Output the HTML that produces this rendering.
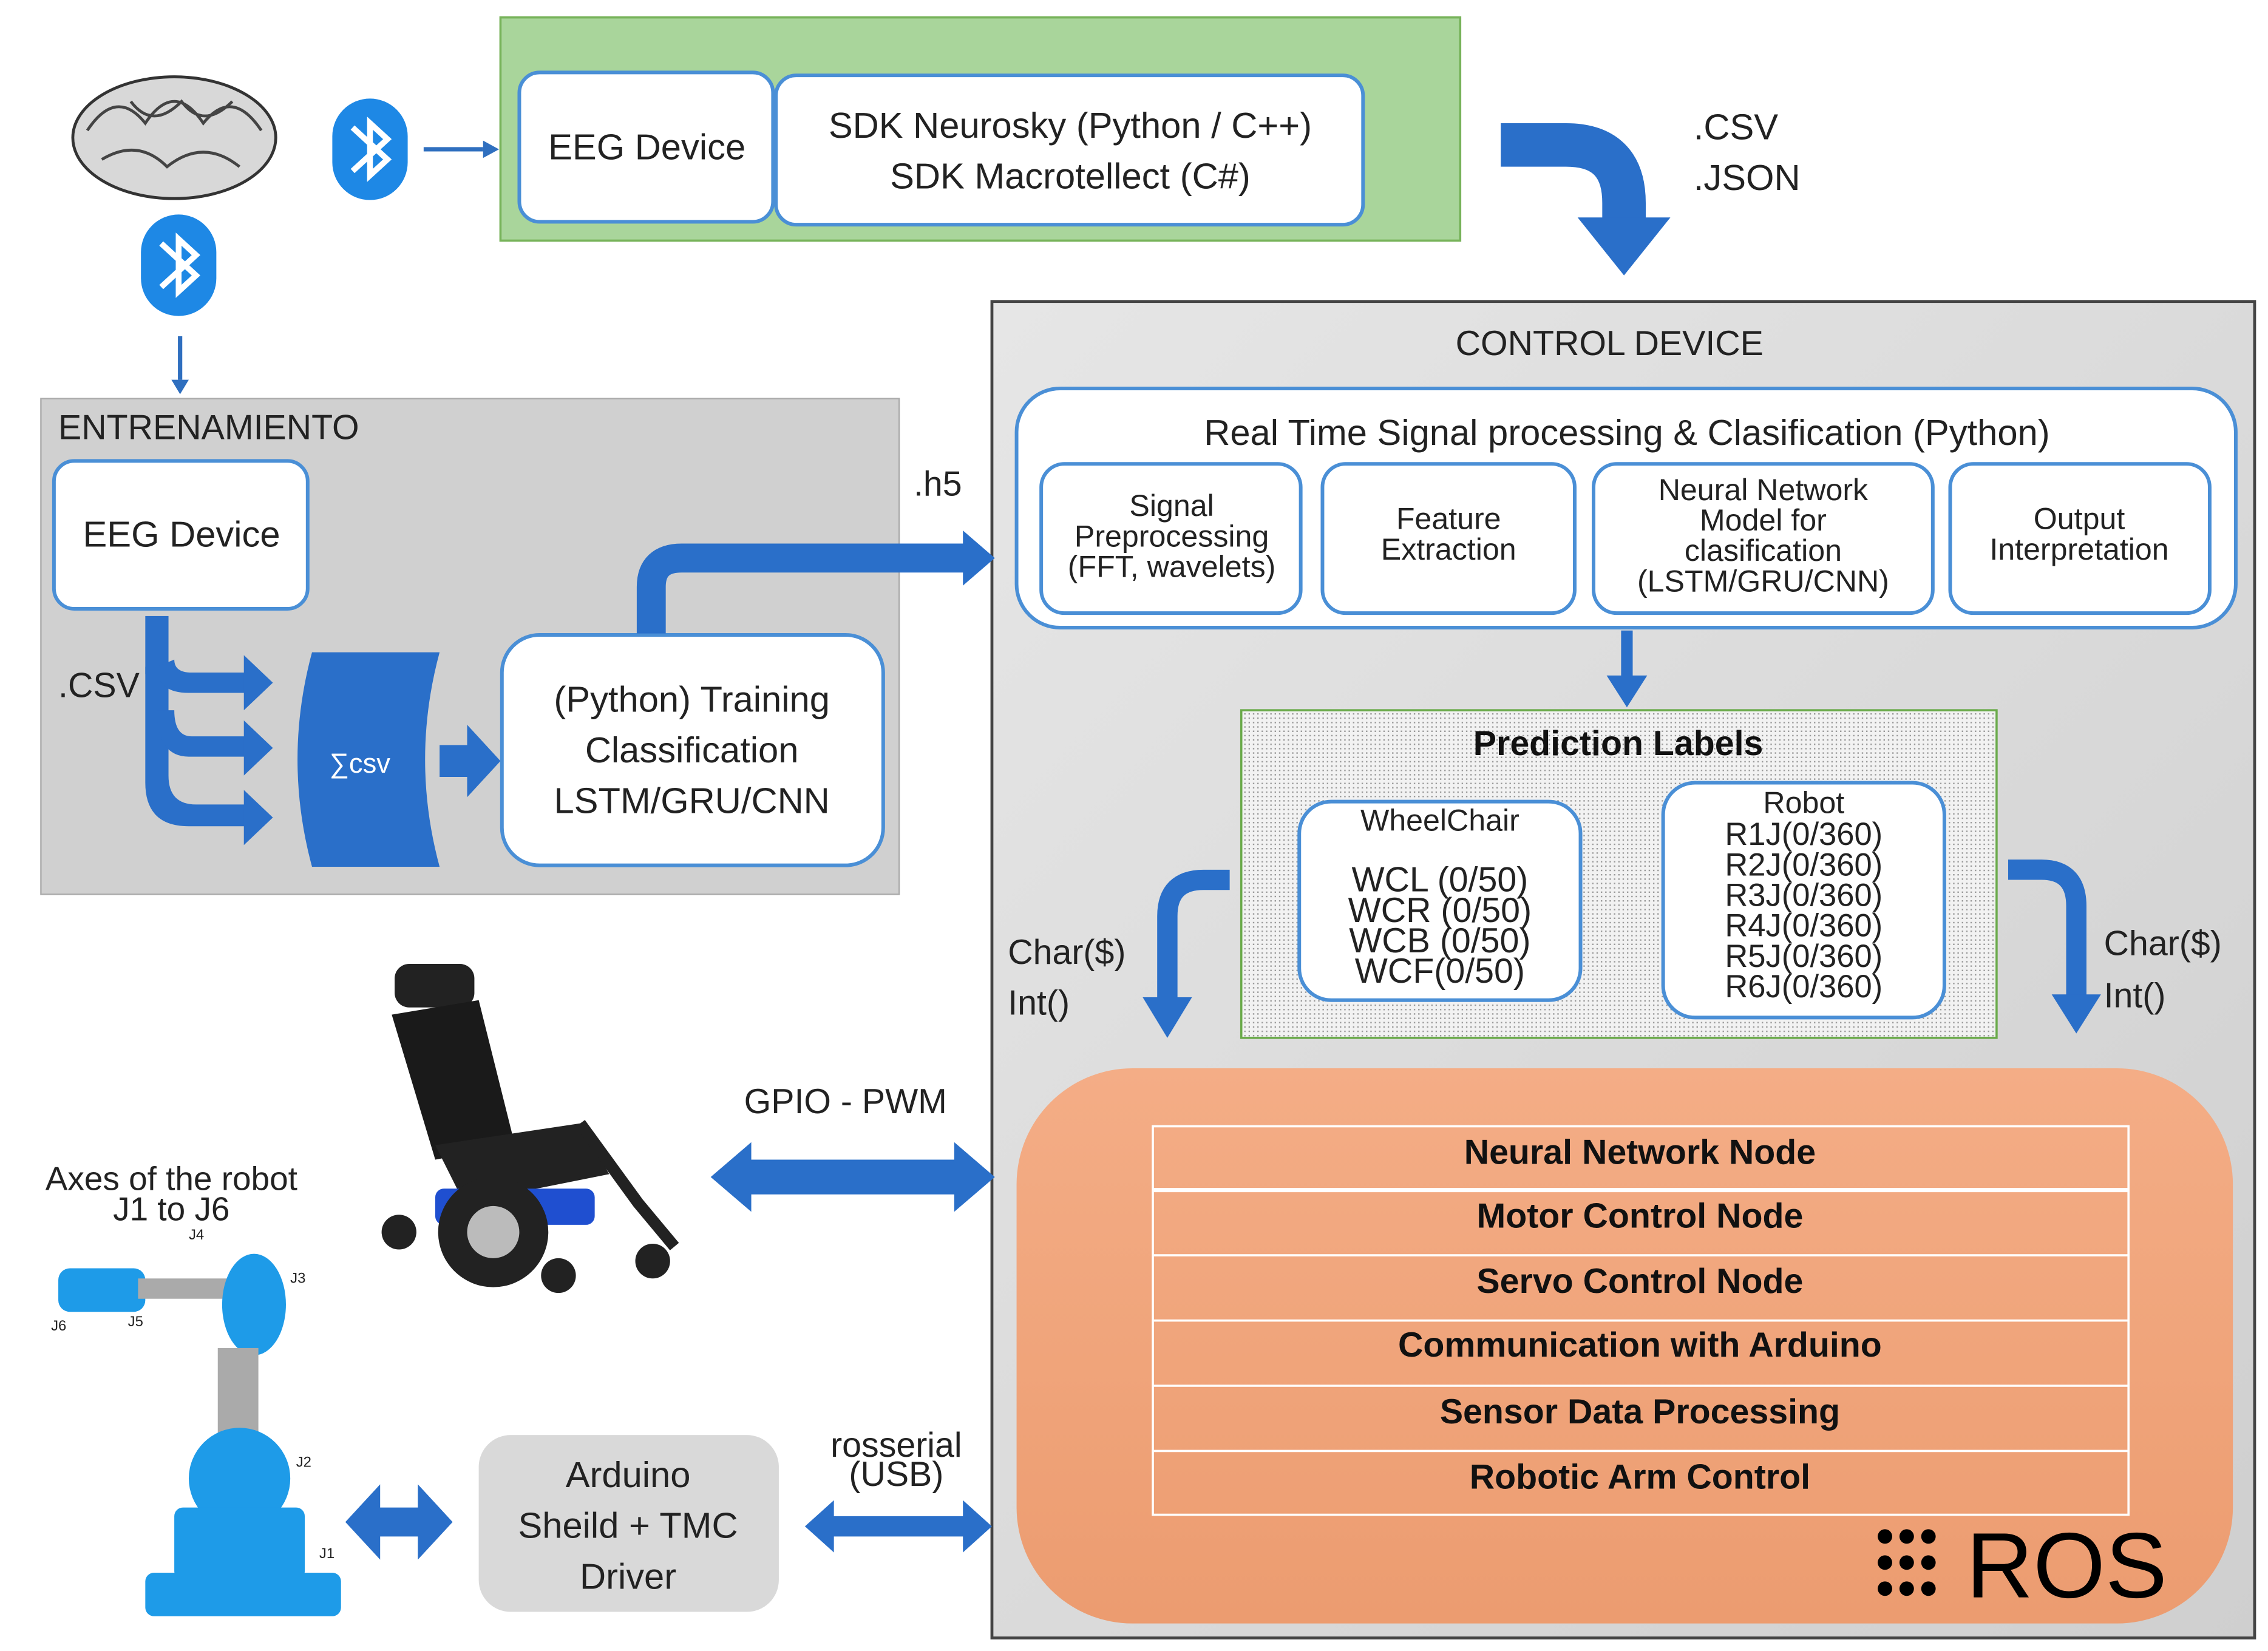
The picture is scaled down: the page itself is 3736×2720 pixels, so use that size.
<!DOCTYPE html>
<html><head><meta charset="utf-8"><style>
html,body{margin:0;padding:0;background:#fff;}
svg{display:block;}
text{font-family:"Liberation Sans","DejaVu Sans",sans-serif;}
</style></head><body>
<svg width="3736" height="2720" viewBox="0 0 1564 1139" xmlns="http://www.w3.org/2000/svg">
<defs>
<pattern id="dots" width="3" height="3" patternUnits="userSpaceOnUse">
<rect width="3" height="3" fill="#f2f2f2"/><rect width="1" height="1" fill="#9a9a9a"/>
</pattern>
<linearGradient id="og" x1="0" y1="0" x2="0" y2="1"><stop offset="0" stop-color="#f4ad86"/><stop offset="1" stop-color="#ec9c70"/></linearGradient>
<linearGradient id="gg" x1="0" y1="0" x2="1" y2="1"><stop offset="0" stop-color="#e6e6e6"/><stop offset="1" stop-color="#cfcfcf"/></linearGradient>
</defs>
<g fill="none" stroke="none">
<!-- top green -->
<rect x="345" y="12" width="662" height="154" fill="#a9d59b" stroke="#77b35a" stroke-width="1.5"/>
<rect x="358" y="50" width="175" height="103" rx="14" fill="#fff" stroke="#4a8fd6" stroke-width="2.5"/>
<rect x="535" y="52" width="405" height="103" rx="14" fill="#fff" stroke="#4a8fd6" stroke-width="2.5"/>
</g>
<text x="446" y="110" font-size="25" text-anchor="middle" fill="#222">EEG Device</text>
<text x="738" y="95" font-size="25" text-anchor="middle" fill="#222">SDK Neurosky (Python / C++)</text>
<text x="738" y="130" font-size="25" text-anchor="middle" fill="#222">SDK Macrotellect (C#)</text>

<!-- brain -->
<ellipse cx="120" cy="95" rx="70" ry="42" fill="#d8d8d8" stroke="#333" stroke-width="2"/>
<path d="M60,90 q20,-30 40,-5 q20,-30 40,0 q20,-25 40,5 M70,110 q25,-15 45,5 q25,-20 50,0 M90,70 q15,20 35,0 q15,20 35,0" stroke="#444" stroke-width="2" fill="none"/>
<!-- bluetooth icons -->
<g>
<rect x="229" y="68" width="52" height="70" rx="26" fill="#1e88e5"/>
<path d="M243,88 L267,110 L255,121 L255,85 L267,96 L243,118" stroke="#fff" stroke-width="4" fill="none"/>
<rect x="97" y="148" width="52" height="70" rx="26" fill="#1e88e5"/>
<path d="M111,168 L135,190 L123,201 L123,165 L135,176 L111,198" stroke="#fff" stroke-width="4" fill="none"/>
</g>
<line x1="292" y1="103" x2="333" y2="103" stroke="#2f6fbf" stroke-width="3"/>
<polygon points="333,97 344,103 333,109" fill="#2f6fbf"/>
<line x1="124" y1="232" x2="124" y2="262" stroke="#2f6fbf" stroke-width="3"/>
<polygon points="118,262 124,272 130,262" fill="#2f6fbf"/>

<!-- big top curved arrow -->
<path d="M1035,100 H1080 Q1120,100 1120,140 V152" stroke="#2a6fc9" stroke-width="30" fill="none"/>
<polygon points="1088,150 1152,150 1120,190" fill="#2a6fc9"/>
<text x="1168" y="96" font-size="25" fill="#222">.CSV</text>
<text x="1168" y="131" font-size="25" fill="#222">.JSON</text>

<!-- control device -->
<rect x="684" y="208" width="871" height="922" fill="url(#gg)" stroke="#444" stroke-width="2"/>
<text x="1110" y="245" font-size="24" text-anchor="middle" fill="#222">CONTROL DEVICE</text>
<rect x="701" y="268" width="841" height="165" rx="30" fill="#fff" stroke="#4a8fd6" stroke-width="2.5"/>
<text x="1122" y="307" font-size="25" text-anchor="middle" fill="#222">Real Time Signal processing &amp; Clasification (Python)</text>
<g fill="#fff" stroke="#4a8fd6" stroke-width="2.5">
<rect x="718" y="320" width="179" height="103" rx="16"/>
<rect x="912" y="320" width="174" height="103" rx="16"/>
<rect x="1099" y="320" width="234" height="103" rx="16"/>
<rect x="1345" y="320" width="179" height="103" rx="16"/>
</g>
<g font-size="21" text-anchor="middle" fill="#222">
<text x="808" y="356">Signal</text><text x="808" y="377">Preprocessing</text><text x="808" y="398">(FFT, wavelets)</text>
<text x="999" y="365">Feature</text><text x="999" y="386">Extraction</text>
<text x="1216" y="345">Neural Network</text><text x="1216" y="366">Model for</text><text x="1216" y="387">clasification</text><text x="1216" y="408">(LSTM/GRU/CNN)</text>
<text x="1434" y="365">Output</text><text x="1434" y="386">Interpretation</text>
</g>
<line x1="1122" y1="435" x2="1122" y2="468" stroke="#2a6fc9" stroke-width="8"/>
<polygon points="1108,466 1136,466 1122,488" fill="#2a6fc9"/>

<!-- prediction labels -->
<rect x="856" y="490" width="521" height="226" fill="url(#dots)" stroke="#6aaa4a" stroke-width="1.5"/>
<text x="1116" y="521" font-size="24" font-weight="bold" text-anchor="middle" fill="#111">Prediction Labels</text>
<rect x="896" y="553" width="194" height="137" rx="22" fill="#fff" stroke="#4a8fd6" stroke-width="2.5"/>
<rect x="1147" y="540" width="194" height="162" rx="22" fill="#fff" stroke="#4a8fd6" stroke-width="2.5"/>
<text x="993" y="573" font-size="21" text-anchor="middle" fill="#222">WheelChair</text>
<g font-size="24" text-anchor="middle" fill="#222">
<text x="993" y="615">WCL (0/50)</text><text x="993" y="636">WCR (0/50)</text><text x="993" y="657">WCB (0/50)</text><text x="993" y="678">WCF(0/50)</text>
</g>
<text x="1244" y="561" font-size="21" text-anchor="middle" fill="#222">Robot</text>
<g font-size="22" text-anchor="middle" fill="#222">
<text x="1244" y="583">R1J(0/360)</text><text x="1244" y="604">R2J(0/360)</text><text x="1244" y="625">R3J(0/360)</text><text x="1244" y="646">R4J(0/360)</text><text x="1244" y="667">R5J(0/360)</text><text x="1244" y="688">R6J(0/360)</text>
</g>
<!-- side curved arrows -->
<path d="M848,607 H830 Q805,607 805,632 V690" stroke="#2a6fc9" stroke-width="14" fill="none"/>
<polygon points="788,688 822,688 805,716" fill="#2a6fc9"/>
<path d="M1385,600 H1408 Q1432,600 1432,625 V688" stroke="#2a6fc9" stroke-width="14" fill="none"/>
<polygon points="1415,686 1449,686 1432,713" fill="#2a6fc9"/>
<g font-size="24" fill="#222">
<text x="695" y="665">Char($)</text><text x="695" y="700">Int()</text>
<text x="1451" y="659">Char($)</text><text x="1451" y="695">Int()</text>
</g>

<!-- ROS -->
<rect x="701" y="737" width="839" height="383" rx="80" fill="url(#og)"/>
<g stroke="#fff" stroke-width="1.5" fill="none">
<rect x="795" y="777" width="673" height="268"/>
<line x1="795" y1="821" x2="1468" y2="821" stroke-width="3"/>
<line x1="795" y1="866" x2="1468" y2="866"/>
<line x1="795" y1="911" x2="1468" y2="911"/>
<line x1="795" y1="956" x2="1468" y2="956"/>
<line x1="795" y1="1001" x2="1468" y2="1001"/>
</g>
<g font-size="24" font-weight="bold" text-anchor="middle" fill="#111">
<text x="1131" y="803">Neural Network Node</text>
<text x="1131" y="847">Motor Control Node</text>
<text x="1131" y="892">Servo Control Node</text>
<text x="1131" y="936">Communication with Arduino</text>
<text x="1131" y="982">Sensor Data Processing</text>
<text x="1131" y="1027">Robotic Arm Control</text>
</g>
<g fill="#000">
<circle cx="1300" cy="1060" r="5"/><circle cx="1315" cy="1060" r="5"/><circle cx="1330" cy="1060" r="5"/>
<circle cx="1300" cy="1078" r="5"/><circle cx="1315" cy="1078" r="5"/><circle cx="1330" cy="1078" r="5"/>
<circle cx="1300" cy="1096" r="5"/><circle cx="1315" cy="1096" r="5"/><circle cx="1330" cy="1096" r="5"/>
</g>
<text x="1356" y="1102" font-size="64" fill="#000">ROS</text>

<!-- entrenamiento -->
<rect x="28" y="275" width="592" height="342" fill="#d0d0d0" stroke="#aaa" stroke-width="1"/>
<text x="40" y="303" font-size="24" fill="#222">ENTRENAMIENTO</text>
<rect x="37" y="318" width="175" height="102" rx="14" fill="#fff" stroke="#4a8fd6" stroke-width="2.5"/>
<text x="125" y="377" font-size="25" text-anchor="middle" fill="#222">EEG Device</text>
<text x="40" y="481" font-size="24" fill="#222">.CSV</text>
<g fill="#2a6fc9">
<rect x="100" y="425" width="16" height="40"/>
<path d="M100,460 V540 Q100,570 130,570 H170 V555 H135 Q116,555 116,535 V460 Z"/>
<path d="M108,460 Q108,478 130,478 H170 V464 H132 Q120,464 120,455 Z"/>
<path d="M108,490 Q108,522 130,522 H170 V508 H132 Q120,508 120,490 Z"/>
<polygon points="168,452 188,471 168,490"/>
<polygon points="168,497 188,516 168,535"/>
<polygon points="168,545 188,564 168,583"/>
<path d="M215,450 H303 Q283,524 303,598 H215 Q195,524 215,450 Z"/>
<rect x="303" y="514" width="22" height="22"/>
<polygon points="322,500 345,525 322,550"/>
</g>
<text x="248" y="533" font-size="19" text-anchor="middle" fill="#fff">∑csv</text>
<rect x="346" y="438" width="263" height="159" rx="26" fill="#fff" stroke="#4a8fd6" stroke-width="2.5"/>
<g font-size="25" text-anchor="middle" fill="#222">
<text x="477" y="491">(Python) Training</text><text x="477" y="526">Classification</text><text x="477" y="561">LSTM/GRU/CNN</text>
</g>
<!-- .h5 arrow -->
<path d="M449,437 V405 Q449,385 470,385 H665" stroke="#2a6fc9" stroke-width="20" fill="none"/>
<polygon points="664,366 686,385 664,404" fill="#2a6fc9"/>
<text x="630" y="342" font-size="24" fill="#222">.h5</text>

<!-- GPIO -->
<text x="583" y="768" font-size="24" text-anchor="middle" fill="#222">GPIO - PWM</text>
<g fill="#2a6fc9">
<polygon points="490,812 518,788 518,800 658,800 658,788 686,812 658,836 658,824 518,824 518,836"/>
<polygon points="238,1050 262,1024 262,1040 288,1040 288,1024 312,1050 288,1076 288,1060 262,1060 262,1076"/>
<polygon points="555,1053 575,1035 575,1046 664,1046 664,1035 684,1053 664,1071 664,1060 575,1060 575,1071"/>
</g>
<text x="618" y="1005" font-size="24" text-anchor="middle" fill="#222">rosserial</text>
<text x="618" y="1025" font-size="24" text-anchor="middle" fill="#222">(USB)</text>
<rect x="330" y="990" width="207" height="122" rx="22" fill="#d9d9d9"/>
<g font-size="25" text-anchor="middle" fill="#222">
<text x="433" y="1026">Arduino</text><text x="433" y="1061">Sheild + TMC</text><text x="433" y="1096">Driver</text>
</g>

<!-- wheelchair -->
<g>
<rect x="272" y="665" width="55" height="30" rx="10" fill="#222"/>
<path d="M270,700 L330,690 L355,790 L300,800 Z" fill="#1a1a1a"/>
<path d="M300,790 L400,775 L420,810 L320,830 Z" fill="#222"/>
<rect x="300" y="820" width="110" height="25" rx="6" fill="#1f4fd0"/>
<circle cx="340" cy="850" r="38" fill="#222"/><circle cx="340" cy="850" r="18" fill="#bbb"/>
<circle cx="275" cy="850" r="12" fill="#222"/><circle cx="385" cy="880" r="12" fill="#222"/><circle cx="450" cy="870" r="12" fill="#222"/>
<path d="M400,775 L440,830 L465,860" stroke="#222" stroke-width="8" fill="none"/>
</g>
<!-- robot -->
<text x="118" y="821" font-size="23" text-anchor="middle" fill="#222">Axes of the robot</text>
<text x="118" y="842" font-size="23" text-anchor="middle" fill="#222">J1 to J6</text>
<g fill="#1e9be8">
<rect x="40" y="875" width="60" height="30" rx="8"/>
<rect x="95" y="882" width="65" height="14" fill="#aaa"/>
<ellipse cx="175" cy="900" rx="22" ry="35"/>
<rect x="150" y="930" width="28" height="60" fill="#aaa"/>
<ellipse cx="165" cy="1020" rx="35" ry="35"/>
<rect x="120" y="1040" width="90" height="50" rx="6"/>
<rect x="100" y="1085" width="135" height="30" rx="6"/>
</g>
<g font-size="10" fill="#222">
<text x="130" y="855">J4</text><text x="200" y="885">J3</text><text x="35" y="918">J6</text><text x="88" y="915">J5</text><text x="204" y="1012">J2</text><text x="220" y="1075">J1</text>
</g>
</svg>
</body></html>
